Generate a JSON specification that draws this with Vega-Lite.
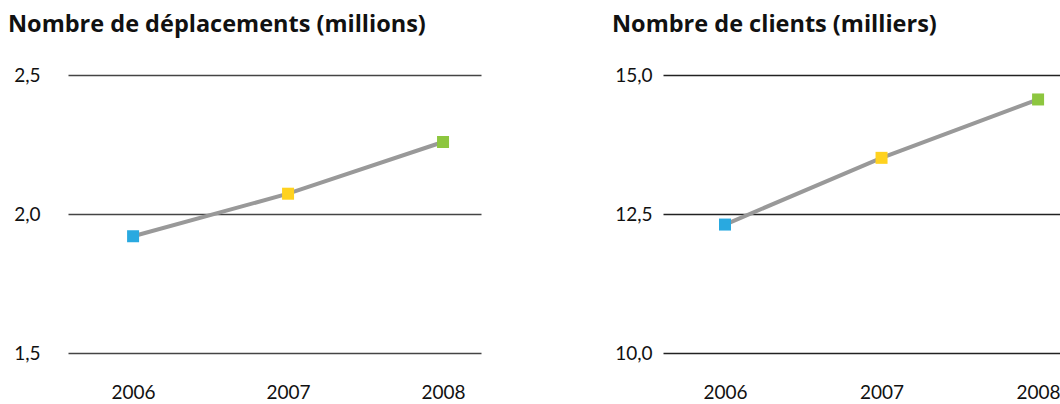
{
  "$schema": "https://vega.github.io/schema/vega-lite/v6.json",
  "padding": {"left": 8, "top": 12, "right": 0, "bottom": 0},
  "background": "white",
  "spacing": 131,
  "config": {
    "view": {"stroke": null},
    "font": "Lato",
    "title": {"font": "Open Sans", "fontSize": 23.5, "fontWeight": "bold", "color": "#111", "anchor": "start", "frame": "bounds", "offset": 30},
    "axis": {"labelFont": "Lato", "labelFontSize": 19, "labelColor": "#111", "ticks": false, "domain": false, "title": null}
  },
  "hconcat": [
    {
      "title": "Nombre de déplacements (millions)",
      "width": 413,
      "height": 278,
      "data": {"values": [
        {"annee": 2006, "valeur": 1.92, "couleur": "2006"},
        {"annee": 2007, "valeur": 2.073, "couleur": "2007"},
        {"annee": 2008, "valeur": 2.259, "couleur": "2008"}
      ]},
      "encoding": {
        "x": {"field": "annee", "type": "quantitative", "scale": {"domain": [2005.58, 2008.245], "nice": false, "zero": false},
              "axis": {"values": [2006, 2007, 2008], "format": "d", "grid": false, "labelPadding": 30}},
        "y": {"field": "valeur", "type": "quantitative", "scale": {"domain": [1.5, 2.5], "nice": false, "zero": false},
              "axis": {"values": [1.5, 2.0, 2.5], "labelExpr": "replace(format(datum.value, '.1f'), '.', ',')", "grid": true, "gridColor": "#444", "gridWidth": 1.6, "gridOpacity": 1, "labelPadding": 28, "minExtent": 60, "maxExtent": 60}}
      },
      "layer": [
        {"mark": {"type": "line", "color": "#999999", "strokeWidth": 4}},
        {"mark": {"type": "square", "size": 144, "opacity": 1, "filled": true},
         "encoding": {"color": {"field": "couleur", "type": "nominal", "scale": {"domain": ["2006", "2007", "2008"], "range": ["#29A9E0", "#FFD21F", "#8DC63F"]}, "legend": null}}}
      ]
    },
    {
      "title": "Nombre de clients (milliers)",
      "width": 397,
      "height": 278,
      "data": {"values": [
        {"annee": 2006, "valeur": 12.31, "couleur": "2006"},
        {"annee": 2007, "valeur": 13.51, "couleur": "2007"},
        {"annee": 2008, "valeur": 14.56, "couleur": "2008"}
      ]},
      "encoding": {
        "x": {"field": "annee", "type": "quantitative", "scale": {"domain": [2005.604, 2008.14], "nice": false, "zero": false},
              "axis": {"values": [2006, 2007, 2008], "format": "d", "grid": false, "labelPadding": 30}},
        "y": {"field": "valeur", "type": "quantitative", "scale": {"domain": [10, 15], "nice": false, "zero": false},
              "axis": {"values": [10, 12.5, 15], "labelExpr": "replace(format(datum.value, '.1f'), '.', ',')", "grid": true, "gridColor": "#222", "gridWidth": 1.4, "gridOpacity": 1, "labelPadding": 11, "minExtent": 51, "maxExtent": 51}}
      },
      "layer": [
        {"mark": {"type": "line", "color": "#999999", "strokeWidth": 4}},
        {"mark": {"type": "square", "size": 144, "opacity": 1, "filled": true},
         "encoding": {"color": {"field": "couleur", "type": "nominal", "scale": {"domain": ["2006", "2007", "2008"], "range": ["#29A9E0", "#FFD21F", "#8DC63F"]}, "legend": null}}}
      ]
    }
  ]
}
